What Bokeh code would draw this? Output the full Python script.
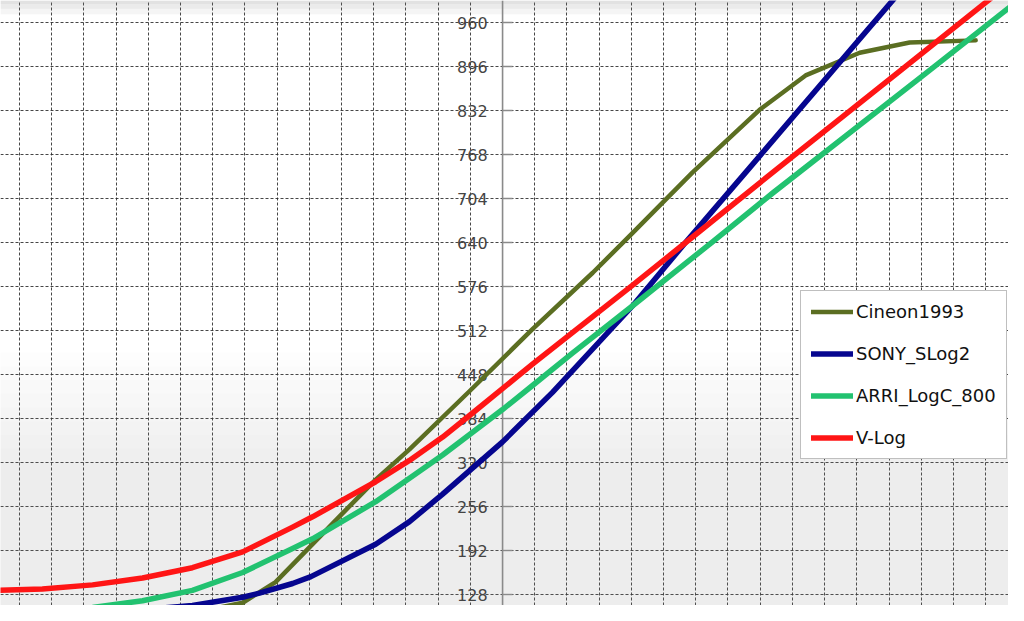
from bokeh.plotting import figure
from bokeh.models import FixedTicker, Span, BoxAnnotation, Legend, LegendItem, ColumnDataSource
from bokeh.core.properties import value
from bokeh.embed import file_html
from bokeh.resources import INLINE

# ---- data (x: exposure in grid steps, 0 = vertical axis; y: code value) ----
tick_values = [128, 192, 256, 320, 384, 448, 512, 576, 640, 704, 768, 832, 896, 960]
tick_labels = ["128", "192", "256", "320", "384", "448", "512", "576", "640",
               "704", "768", "832", "896", "960"]
x_grid_steps = list(range(-16, 17))

cineon_x = [-11.0, -9.63, -8.07, -7.05, -5.99, -4.97, -3.94, -2.89, -1.02, 0.93,
            2.80, 4.04, 5.90, 7.98, 9.41, 11.09, 12.64, 14.69]
cineon_y = [96, 101, 116, 146, 197, 246, 295, 339, 424, 514,
            596, 654, 742, 833, 883, 916, 931, 934]

slog2_x = [-15.84, -12.73, -11.18, -9.63, -8.07, -7.55, -6.52, -5.95, -3.94, -2.89,
           -1.86, 0.0, 1.55, 4.04, 5.68, 7.55, 12.33, 13.5]
slog2_y = [96, 101, 106, 112, 124, 130, 144, 154, 201, 234,
           274, 350, 422, 548, 640, 742, 1004, 1068]

logc_x = [-15.84, -12.73, -11.18, -9.63, -8.07, -6.52, -5.90, -3.94, -2.89, -1.86,
          0.0, 0.93, 2.17, 4.04, 6.52, 8.39, 13.14, 15.96]
logc_y = [103, 109, 119, 134, 160, 195, 209, 263, 297, 331,
          397, 432, 479, 548, 641, 712, 886, 990]

vlog_x = [-15.84, -14.29, -12.73, -11.18, -9.63, -8.07, -6.52, -5.90, -3.94, -2.89,
          -1.86, -0.93, 0.93, 2.17, 4.04, 5.90, 8.39, 12.11, 15.96]
vlog_y = [134, 136, 142, 152, 167, 190, 226, 241, 292, 323,
          357, 392, 463, 509, 578, 648, 742, 881, 1025]

series_names = ["Cineon1993", "SONY_SLog2", "ARRI_LogC_800", "V-Log"]
series_colors = ["#5b6e22", "#06068f", "#22c270", "#ff1515"]

# ---- figure ----
p = figure(width=1008, height=605, x_range=(-15.59, 15.71), y_range=(112, 992),
           output_backend="svg", toolbar_location=None, min_border=0)
p.xaxis.visible = False
p.yaxis.visible = False
p.outline_line_color = None
p.background_fill_color = "white"
p.border_fill_color = "white"

p.xgrid.ticker = FixedTicker(ticks=x_grid_steps)
p.ygrid.ticker = FixedTicker(ticks=tick_values)
for g in (p.xgrid, p.ygrid):
    g.grid_line_color = "#262626"
    g.grid_line_alpha = 0.85
    g.grid_line_width = 1
    g.grid_line_dash = "3 2"

# soft grey shading of the photographed screen
for top in [480, 460, 440, 420, 400, 380, 360, 340, 320]:
    p.add_layout(BoxAnnotation(top=top, fill_color="#808080", fill_alpha=0.018,
                               line_color=None, level="underlay"))
for bottom in [972, 980, 987]:
    p.add_layout(BoxAnnotation(bottom=bottom, fill_color="#808080", fill_alpha=0.08,
                               line_color=None, level="underlay"))

# vertical value axis in the middle
p.add_layout(Span(location=0, dimension="height", line_color="#8a8a8a",
                  line_width=1.6, level="underlay"))
label_x = [0] * len(tick_values)
p.ray(x=label_x, y=tick_values, length=10, length_units="screen", angle=0,
      line_color="#8a8a8a", line_width=1.4)
p.text(x=label_x, y=tick_values, text=tick_labels, x_offset=-15,
       text_align="right", text_baseline="middle",
       text_font=value("DejaVu Sans"), text_font_size=value("16px"),
       text_color="#444444")

# curves
xs = [cineon_x, slog2_x, logc_x, vlog_x]
ys = [cineon_y, slog2_y, logc_y, vlog_y]
widths = [4.5, 5.5, 5.5, 5.5]
items = []
for name, color, x, y, w in zip(series_names, series_colors, xs, ys, widths):
    src = ColumnDataSource(dict(x=x, y=y))
    r = p.line("x", "y", source=src, line_color=color, line_width=w,
               line_cap="round", line_join="round")
    items.append(LegendItem(label=name, renderers=[r]))

legend = Legend(items=items, location=(800, 146))
legend.label_text_font = "DejaVu Sans"
legend.label_text_font_size = "18px"
legend.label_text_color = "#111111"
legend.glyph_width = 42
legend.glyph_height = 21
legend.label_height = 21
legend.label_standoff = 3
legend.spacing = 21
legend.padding = 10
legend.margin = 0
legend.border_line_color = "#7f7f7f"
legend.border_line_width = 1
legend.background_fill_color = "white"
legend.background_fill_alpha = 1
p.add_layout(legend)

open("out.html", "w").write(file_html(p, INLINE))
